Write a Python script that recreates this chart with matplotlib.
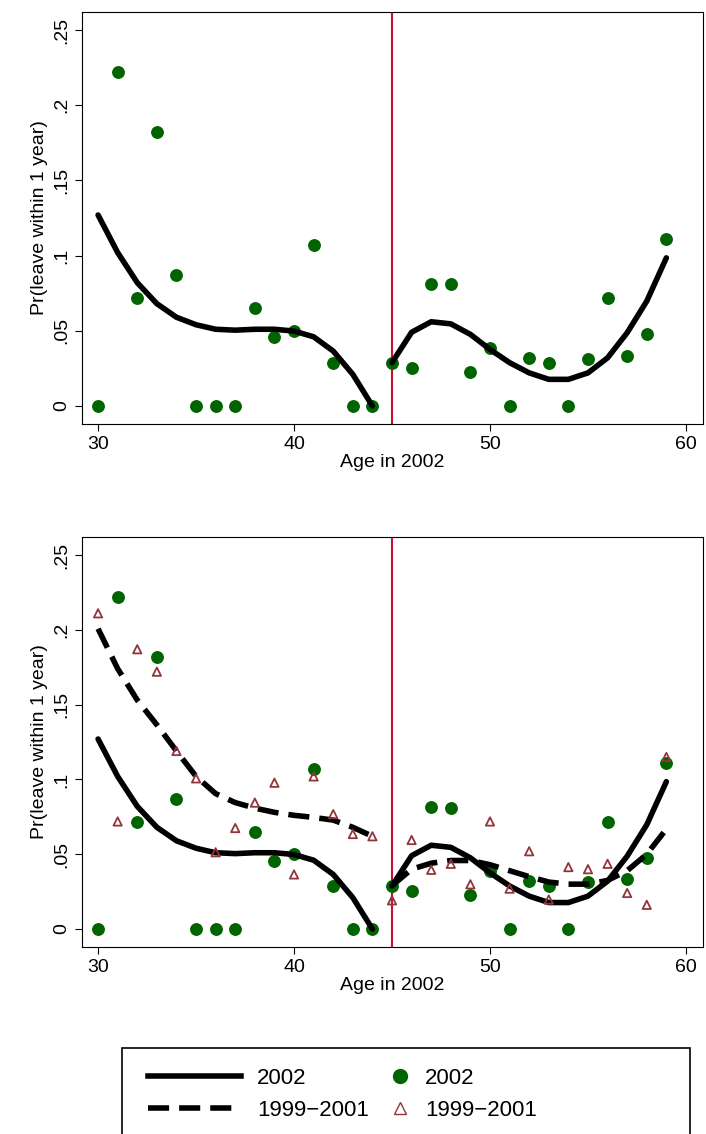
import matplotlib
matplotlib.use("Agg")
import matplotlib.pyplot as plt
from matplotlib.lines import Line2D
from matplotlib.patches import Rectangle

plt.rcParams['font.family'] = ['Liberation Sans', 'DejaVu Sans']

ages = list(range(30, 60))
p2002 = [0, 0.222, 0.0715, 0.182, 0.087, 0, 0, 0, 0.065, 0.0456, 0.05, 0.107, 0.0288, 0, 0,
         0.0288, 0.0254, 0.0814, 0.081, 0.0228, 0.0387, 0, 0.032, 0.0288, 0, 0.0314, 0.0715, 0.0334, 0.0476, 0.111]
p9901 = [0.211, 0.0719, 0.187, 0.172, 0.119, 0.1007, 0.0513, 0.0675, 0.0845, 0.0978, 0.0365, 0.102, 0.0768, 0.0635, 0.062,
         0.0192, 0.0595, 0.0396, 0.0436, 0.0299, 0.0719, 0.027, 0.052, 0.0197, 0.0414, 0.040, 0.0436, 0.0241, 0.0162, 0.115]
fit2002 = [0.127, 0.102, 0.082, 0.068, 0.059, 0.054, 0.051, 0.0504, 0.051, 0.051, 0.0498, 0.046, 0.0365, 0.021, 0.0,
           0.0288, 0.049, 0.056, 0.0546, 0.0476, 0.0376, 0.0288, 0.022, 0.0177, 0.0177, 0.022, 0.032, 0.0487, 0.0697, 0.0985]
fit9901 = [0.2007, 0.174, 0.153, 0.1365, 0.119, 0.102, 0.0905, 0.0845, 0.0808, 0.078, 0.076, 0.0746, 0.0728, 0.068, 0.062,
           0.029, 0.040, 0.044, 0.0458, 0.0458, 0.043, 0.039, 0.035, 0.0314, 0.030, 0.030, 0.0325, 0.039, 0.050, 0.0668]
yticks = [0, 0.05, 0.1, 0.15, 0.2, 0.25]
ytlabels = ["0", ".05", ".1", ".15", ".2", ".25"]
xticks = [30, 40, 50, 60]

GREEN = "#006400"
RED = "#90353b"
VLINE = "#c8102e"
DASH = (0, (3.8, 1.8))

fig = plt.figure(figsize=(7.06, 11.34), dpi=100)
W, H = 706, 1134
def ax_at(l, t, r, b):
    return fig.add_axes([l / W, 1 - b / H, (r - l) / W, (b - t) / H])

axes = [ax_at(82, 12, 703, 424), ax_at(82, 537, 703, 947)]
for i, ax in enumerate(axes):
    L, R = ages[:15], ages[15:]
    ax.plot(L, fit2002[:15], color="black", lw=4, solid_capstyle="round", zorder=3)
    ax.plot(R, fit2002[15:], color="black", lw=4, solid_capstyle="round", zorder=3)
    if i == 1:
        ax.plot(L, fit9901[:15], color="black", lw=4, ls=DASH, zorder=3)
        ax.plot(R, fit9901[15:], color="black", lw=4, ls=DASH, zorder=3)
        ax.scatter(ages, p9901, marker="^", s=36, facecolors="none", edgecolors=RED, linewidths=1.3, zorder=4)
    ax.scatter(ages, p2002, s=68, color=GREEN, zorder=2)
    ax.axvline(45, color=VLINE, lw=1.5, zorder=1)
    ax.set_xlim(29.18, 60.87)
    ax.set_ylim(-0.012, 0.262)
    ax.set_xticks(xticks)
    ax.set_yticks(yticks)
    ax.set_yticklabels(ytlabels, rotation=90, va="center")
    ax.tick_params(labelsize=14, length=5)
    ax.set_xlabel("Age in 2002", fontsize=14, labelpad=1)
    ax.set_ylabel("Pr(leave within 1 year)", fontsize=14, labelpad=4)

fig.patches.append(Rectangle((122 / W, 1 - 1140 / H), 568 / W, 92 / H, transform=fig.transFigure,
                             fill=False, edgecolor="black", lw=1.2))
lines_h = [Line2D([], [], color="black", lw=4), Line2D([], [], color="black", lw=4, ls=DASH)]
marks_h = [Line2D([], [], marker="o", ls="none", color=GREEN, markersize=10),
           Line2D([], [], marker="^", ls="none", markerfacecolor="none", markeredgecolor=RED, markersize=8)]
labels = ["2002", "1999\u22122001"]
fig.legend(lines_h, labels, loc="upper left", bbox_to_anchor=(128 / W, 1 - 1048 / H),
           fontsize=16, frameon=False, handlelength=4.2, handletextpad=0.7, labelspacing=0.5)
fig.legend(marks_h, labels, loc="upper left", bbox_to_anchor=(363 / W, 1 - 1048 / H),
           fontsize=16, frameon=False, handlelength=1.5, handletextpad=0.4, labelspacing=0.5)
fig.savefig("out.png", dpi=100)
